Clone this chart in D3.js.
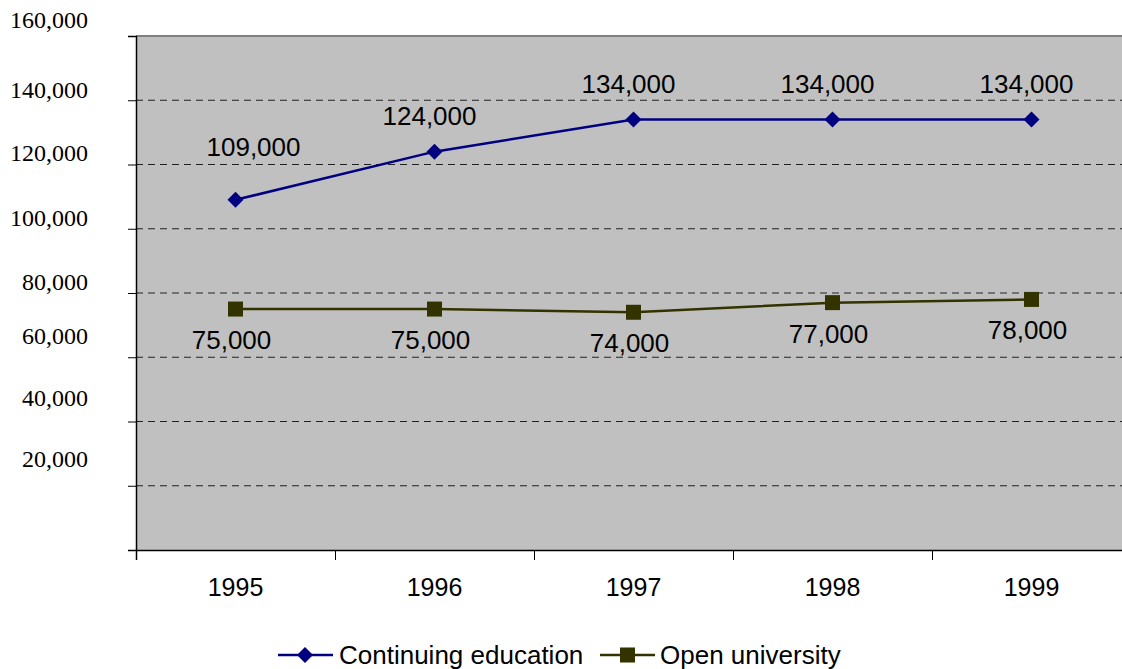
<!DOCTYPE html>
<html><head><meta charset="utf-8">
<script src="https://cdn.jsdelivr.net/npm/d3@7"></script>
<style>body{margin:0;background:#fff}svg{display:block}</style>
</head><body>
<svg id="c" width="1122" height="669"></svg>
<script>
const years = ["1995","1996","1997","1998","1999"];
const continuing = [109000,124000,134000,134000,134000];
const openUni = [75000,75000,74000,77000,78000];
const yTicks = [20000,40000,60000,80000,100000,120000,140000,160000];
const seriesNames = ["Continuing education","Open university"];

const svg = d3.select("#c");
const L = 136, T = 36, B = 550, bandW = 199;
// layout nudges (pixels) for y tick labels, matching the reference's irregular placement
const yLabelNudge = [-27,-24,-21,-11,-11,-12,-10,-16];
const ceLabelNudge = [-53,-36,-36,-36,-36];
const x = d3.scaleBand().domain(years).range([L, L + bandW*years.length]).paddingInner(0).paddingOuter(0);
const y = d3.scaleLinear().domain([0,160000]).range([B, T]);
const fmt = d3.format(",");
const sans = "Liberation Sans, Arial, sans-serif";

svg.append("rect").attr("x",L).attr("y",T).attr("width",1122-L).attr("height",B-T).attr("fill","#c0c0c0");
svg.append("line").attr("x1",L).attr("x2",1122).attr("y1",T).attr("y2",T).attr("stroke","#808080").attr("stroke-width",2);

// gridlines
svg.append("g").selectAll("line").data(yTicks.filter(d=>d<160000)).join("line")
  .attr("x1",L).attr("x2",1122).attr("y1",d=>y(d)).attr("y2",d=>y(d))
  .attr("stroke","#222").attr("stroke-dasharray","7,5").attr("stroke-width",1);

// y axis
const yAxis = d3.axisLeft(y).tickValues([0].concat(yTicks)).tickSize(8).tickFormat("");
const ya = svg.append("g").attr("transform",`translate(${L},0)`).call(yAxis);
ya.select(".domain").attr("stroke","#000").attr("stroke-width",1.5);
ya.selectAll(".tick line").attr("stroke","#000");
svg.append("g").selectAll("text").data(yTicks).join("text")
  .attr("x",88).attr("y",(d,i)=>y(d)+yLabelNudge[i]).attr("text-anchor","end").attr("dominant-baseline","central")
  .attr("font-family","Liberation Serif, Times New Roman, serif").attr("font-size",24).attr("fill","#000")
  .text(d=>fmt(d));

// x axis
const xb = d3.scaleLinear().domain([0,years.length]).range([L, L+bandW*years.length]);
const xa = svg.append("g").attr("transform",`translate(0,${B})`)
  .call(d3.axisBottom(xb).tickValues(d3.range(0,years.length)).tickSize(10).tickFormat(""));
xa.select(".domain").attr("stroke","#000").attr("stroke-width",1.5);
xa.selectAll(".tick line").attr("stroke","#000");
svg.append("g").selectAll("text").data(years).join("text")
  .attr("x",d=>x(d)+x.bandwidth()/2).attr("y",587).attr("text-anchor","middle").attr("dominant-baseline","central")
  .attr("font-family",sans).attr("font-size",25).attr("fill","#000").text(d=>d);

const cx = d => x(d)+x.bandwidth()/2;
const line = d3.line().x(d=>cx(d[0])).y(d=>y(d[1]));
const s1 = years.map((d,i)=>[d,continuing[i]]);
const s2 = years.map((d,i)=>[d,openUni[i]]);
const c1 = "#000080", c2 = "#333300";
const diamond = "M0,-8L8,0L0,8L-8,0Z";

svg.append("path").attr("d",line(s1)).attr("fill","none").attr("stroke",c1).attr("stroke-width",2.5);
svg.append("g").selectAll("path").data(s1).join("path")
  .attr("transform",d=>`translate(${cx(d[0])},${y(d[1])})`).attr("d",diamond).attr("fill",c1);
svg.append("path").attr("d",line(s2)).attr("fill","none").attr("stroke",c2).attr("stroke-width",2.5);
svg.append("g").selectAll("rect").data(s2).join("rect")
  .attr("x",d=>cx(d[0])-7.5).attr("y",d=>y(d[1])-7.5).attr("width",15).attr("height",15).attr("fill",c2);

// data labels
svg.append("g").selectAll("text").data(s1).join("text")
  .attr("x",(d,i)=>cx(d[0])+(i===0?18:-5)).attr("y",(d,i)=>y(d[1])+ceLabelNudge[i]).attr("text-anchor","middle").attr("dominant-baseline","central")
  .attr("font-family",sans).attr("font-size",26).attr("fill","#000").text(d=>fmt(d[1]));
svg.append("g").selectAll("text").data(s2).join("text")
  .attr("x",d=>cx(d[0])-4).attr("y",d=>y(d[1])+31).attr("text-anchor","middle").attr("dominant-baseline","central")
  .attr("font-family",sans).attr("font-size",26).attr("fill","#000").text(d=>fmt(d[1]));

// legend
const lg = svg.append("g").attr("transform","translate(0,655)");
lg.append("line").attr("x1",278).attr("x2",333).attr("stroke",c1).attr("stroke-width",2.5);
lg.append("path").attr("transform","translate(305,0)").attr("d",diamond).attr("fill",c1);
lg.append("text").attr("x",339).attr("dominant-baseline","central")
  .attr("font-family",sans).attr("font-size",26).text(seriesNames[0]);
lg.append("line").attr("x1",600).attr("x2",655).attr("stroke",c2).attr("stroke-width",2.5);
lg.append("rect").attr("x",620).attr("y",-7.5).attr("width",15).attr("height",15).attr("fill",c2);
lg.append("text").attr("x",660).attr("dominant-baseline","central")
  .attr("font-family",sans).attr("font-size",26).text(seriesNames[1]);
</script>
</body></html>
